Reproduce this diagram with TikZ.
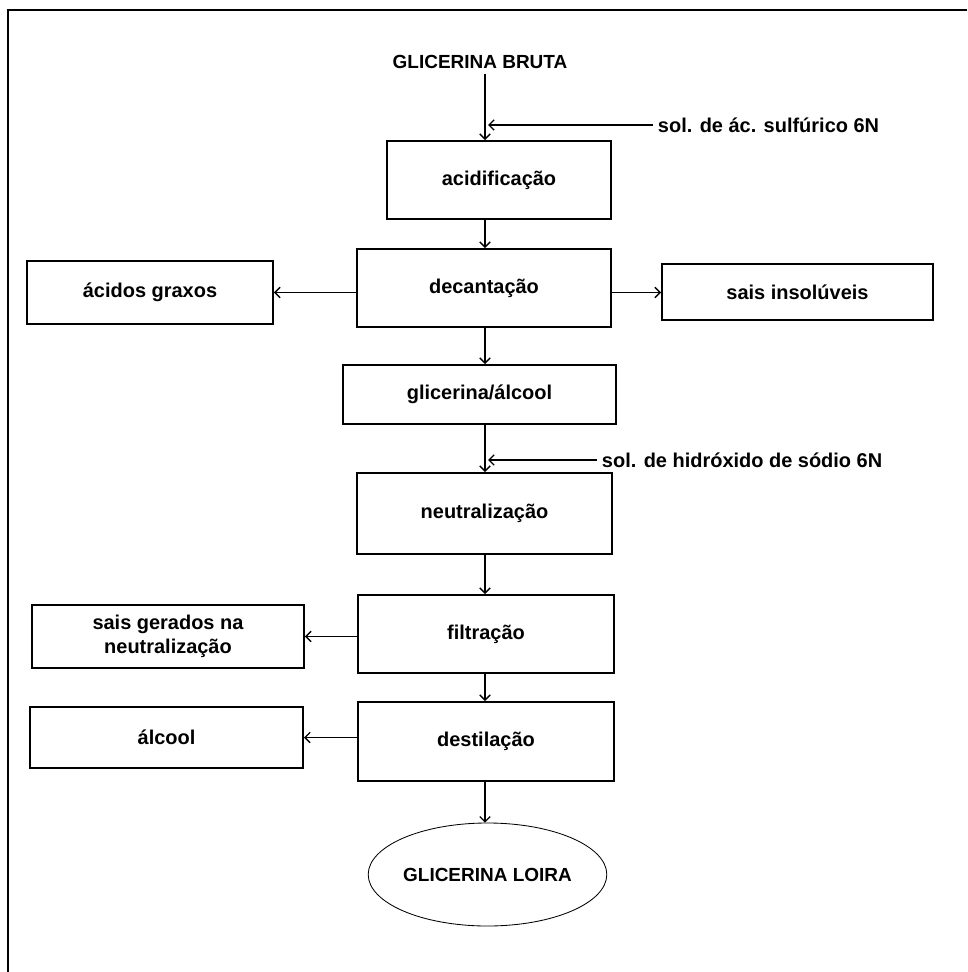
\documentclass[tikz,border=0pt]{standalone}
\usepackage{fontspec}
\setmainfont{Liberation Sans}
\usetikzlibrary{arrows.meta}
\usetikzlibrary{shapes.geometric}

\begin{document}
\begin{tikzpicture}[x=0.25mm, y=-0.25mm,
		font=\fontsize{14.2}{17.5}\selectfont\bfseries,
		titulo/.style={font=\fontsize{13.5}{16}\selectfont\bfseries},
		etapa/.style={draw, line width=1.4pt, inner sep=0pt, align=center},
		fluxo/.style={line width=0.9pt, -{Straight Barb[length=1.3mm, width=2.6mm]}}]
		\useasboundingbox (0,0) rectangle (967,972);
		% moldura
		\draw[line width=1.4pt] (8,972) -- (8,10) -- (967,10);
		\coordinate (eixo) at (485,0);
		% linha principal
		\node[titulo] (bruta) at (480,62) {GLICERINA BRUTA};
		\node[etapa, minimum width=56mm, minimum height=19.5mm] (acid) at (499,180) {acidificação};
		\node[etapa, minimum width=63.5mm, minimum height=19.5mm] (decant) at (484,288) {decantação};
		\node[etapa, minimum width=68.25mm, minimum height=14.75mm] (glialc) at (479.5,394.5) {glicerina/álcool};
		\node[etapa, minimum width=63.75mm, minimum height=20.25mm] (neutra) at (484.5,513.5) {neutralização};
		\node[etapa, minimum width=64mm, minimum height=19.5mm] (filtra) at (486,634) {filtração};
		\node[etapa, minimum width=64mm, minimum height=19.75mm] (destila) at (486,741.5) {destilação};
		\node[titulo, draw, ellipse, line width=0.6pt, inner sep=0pt, minimum width=57.75mm, minimum height=25.75mm] (loira) at (487.5,874.5) {GLICERINA LOIRA};
		% saidas laterais
		\node[etapa, minimum width=61.5mm, minimum height=15.75mm] (graxos) at (150,292.5) {ácidos graxos};
		\node[etapa, minimum width=67.75mm, minimum height=14mm] (insol) at (797.5,292) {sais insolúveis};
		\node[etapa, minimum width=68mm, minimum height=15.75mm] (sais) at (168,636.5) {sais gerados na\\neutralização};
		\node[etapa, minimum width=68.25mm, minimum height=15.25mm] (alcool) at (166.5,737.5) {álcool};
		% entradas
		\node[anchor=west] (acidsol) at (653,125) {sol. de ác. sulfúrico 6N};
		\node[anchor=west] (basesol) at (597,460) {sol. de hidróxido de sódio 6N};
		\coordinate (entra1) at (488,125);
		\coordinate (entra2) at (488,460);
		% setas
		\draw[fluxo] (bruta.south -| eixo) -- (acid.north -| eixo);
		\draw[fluxo] (acidsol.west) -- (entra1);
		\draw[fluxo] (acid.south -| eixo) -- (decant.north -| eixo);
		\draw[fluxo] (decant.west |- graxos) -- (graxos.east);
		\draw[fluxo] (decant.east |- graxos) -- (insol.west |- graxos);
		\draw[fluxo] (decant.south -| eixo) -- (glialc.north -| eixo);
		\draw[fluxo] (glialc.south -| eixo) -- (neutra.north -| eixo);
		\draw[fluxo] (basesol.west) -- (entra2);
		\draw[fluxo] (neutra.south -| eixo) -- (filtra.north -| eixo);
		\draw[fluxo] (filtra.west |- sais) -- (sais.east);
		\draw[fluxo] (filtra.south -| eixo) -- (destila.north -| eixo);
		\draw[fluxo] (destila.west |- alcool) -- (alcool.east);
		\draw[fluxo] (destila.south -| eixo) -- (loira.north -| eixo);
	\end{tikzpicture}
\end{document}
